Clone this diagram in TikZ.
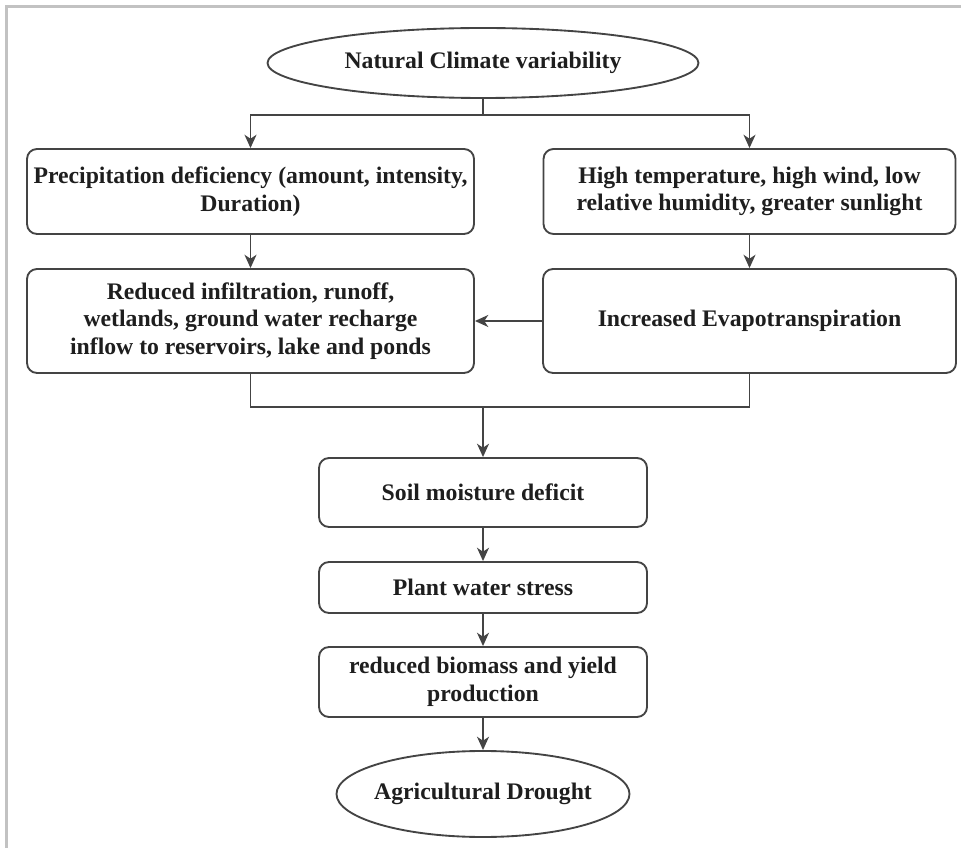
\documentclass[tikz,border=0pt]{standalone}
\usepackage{fontspec}
\setmainfont{Liberation Serif}
\usetikzlibrary{arrows.meta,shapes.geometric,calc}
\definecolor{ln}{HTML}{444444}
\definecolor{tx}{HTML}{1E1E1E}
\definecolor{frm}{HTML}{C2C2C2}
\begin{document}
\begin{tikzpicture}[x=0.75pt,y=-0.75pt,
  txt/.style={font=\fontsize{17.8}{20.8}\selectfont\bfseries, text=tx},
  box/.style={txt, draw=ln, line width=1.4pt, rounded corners=7.5pt, align=center, inner sep=0pt},
  oval/.style={txt, draw=ln, line width=1.4pt, ellipse, align=center, inner sep=0pt},
  conn/.style={draw=ln, line width=1.4pt},
  arr/.style={conn, -{Stealth[length=10pt,width=9pt,inset=3pt]}}]
\useasboundingbox (0,0) rectangle (961,848);
\draw[frm, line width=1.6pt] (6.5,848) -- (6.5,6.5) -- (961,6.5);

\node[oval, minimum width=323.25pt, minimum height=52.5pt] (top) at (483,63) {Natural Climate variability};
\node[box, minimum width=335.25pt, minimum height=63.75pt] (p1) at (250.5,191.5) {Precipitation deficiency (amount, intensity,\\Duration)};
\node[box, minimum width=309pt, minimum height=63.75pt] (h1) at (749.5,191.5) {High temperature, high wind, low\\relative humidity, greater sunlight};
\node[box, minimum width=335.25pt, minimum height=78pt] (r2) at (250.5,321) {Reduced infiltration, runoff,\\wetlands, ground water recharge\\inflow to reservoirs, lake and ponds};
\node[box, minimum width=309.75pt, minimum height=78pt] (e2) at (749.5,321) {Increased Evapotranspiration};
\node[box, minimum width=246pt, minimum height=51.75pt] (soil) at (483,492.5) {Soil moisture deficit};
\node[box, minimum width=246pt, minimum height=38.25pt] (plant) at (483,587.5) {Plant water stress};
\node[box, minimum width=246pt, minimum height=52.5pt] (bio) at (483,682) {reduced biomass and yield\\production};
\node[oval, minimum width=219.75pt, minimum height=64.5pt] (drought) at (483,794) {\makebox[150pt]{Agricultural Drought}};

\coordinate (split) at (483,115);
\coordinate (merge) at (483,407);
\draw[conn] (top.south) -- (split);
\draw[arr] (split) -| (p1.north);
\draw[arr] (split) -| (h1.north);
\draw[arr] (p1.south) -- (r2.north);
\draw[arr] (h1.south) -- (e2.north);
\draw[arr] (e2.west) -- (r2.east);
\draw[conn] (r2.south) -- (r2.south |- merge) -- (e2.south |- merge) -- (e2.south);
\draw[arr] (merge) -- (soil.north);
\draw[arr] (soil.south) -- (plant.north);
\draw[arr] (plant.south) -- (bio.north);
\draw[arr] (bio.south) -- (drought.north);
\end{tikzpicture}
\end{document}
